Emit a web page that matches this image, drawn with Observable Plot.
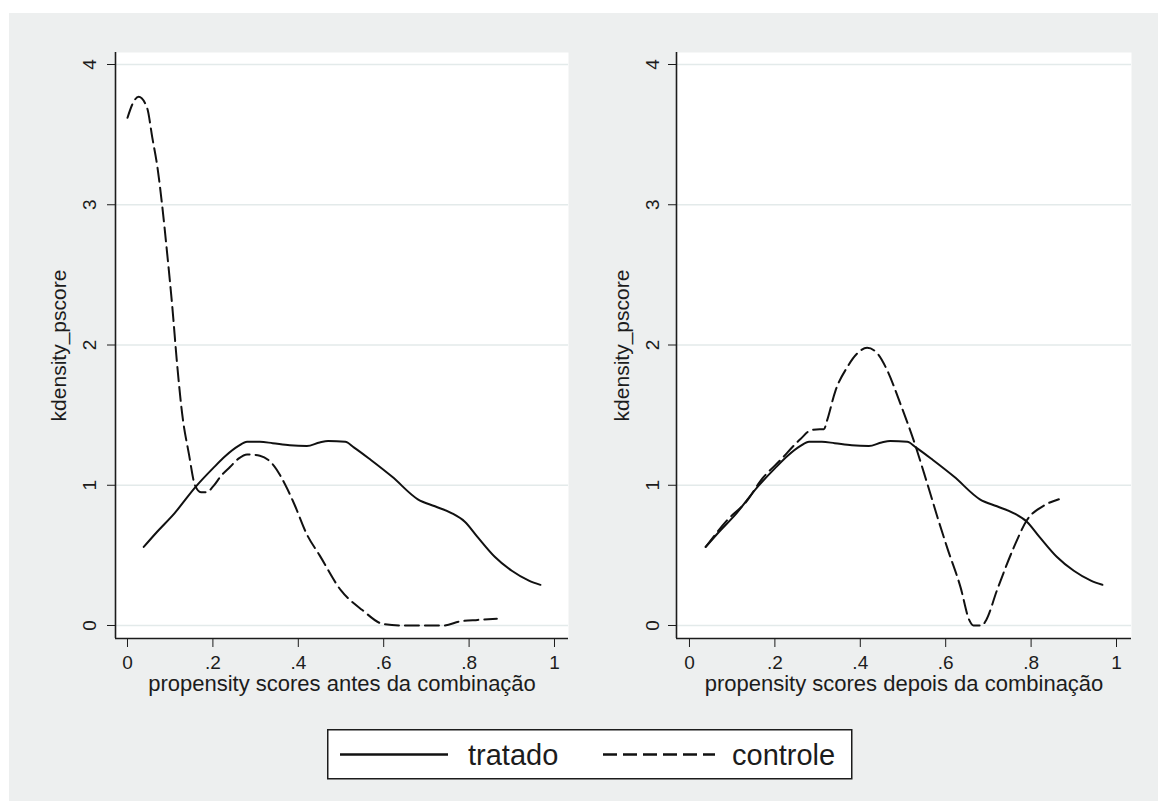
<!DOCTYPE html>
<html>
<head>
<meta charset="utf-8">
<script src="https://cdn.jsdelivr.net/npm/d3@7"></script>
<script src="https://cdn.jsdelivr.net/npm/@observablehq/plot@0.6"></script>
<style>
  html, body { margin: 0; padding: 0; background: #ffffff; }
  body { width: 1158px; height: 801px; overflow: hidden; position: relative; font-family: "Liberation Sans", Arial, sans-serif; }
  #bg { position: absolute; left: 9px; top: 13px; width: 1149px; height: 788px; background: #edefef; }
  #left { position: absolute; left: 0; top: 0; }
  #right { position: absolute; left: 580px; top: 0; }
  #legend { position: absolute; left: 327px; top: 729px; }
</style>
</head>
<body>
<div id="bg"></div>
<div id="left"></div>
<div id="right"></div>
<div id="legend"></div>
<script>
// ---- data ----
const seriesNames = ["tratado", "controle"];
const yTitle = "kdensity_pscore";
const xTitleLeft = "propensity scores antes da combinação";
const xTitleRight = "propensity scores depois da combinação";
const xTicks = [0, 0.2, 0.4, 0.6, 0.8, 1];
const xTickLabels = ["0", ".2", ".4", ".6", ".8", "1"];
const yTicks = [0, 1, 2, 3, 4];
const yTickLabels = ["0", "1", "2", "3", "4"];

// treated group (same curve in both panels)
const tratadoX = [0.038, 0.07, 0.11, 0.16, 0.20, 0.23, 0.26, 0.28, 0.31, 0.34, 0.38, 0.42, 0.45, 0.47, 0.51, 0.53, 0.57, 0.62, 0.68, 0.72, 0.76, 0.79, 0.82, 0.86, 0.90, 0.94, 0.967];
const tratadoY = [0.56, 0.67, 0.80, 0.99, 1.12, 1.21, 1.28, 1.31, 1.31, 1.30, 1.285, 1.28, 1.305, 1.315, 1.31, 1.27, 1.18, 1.06, 0.90, 0.85, 0.80, 0.74, 0.63, 0.49, 0.39, 0.32, 0.29];

// control group before matching
const controleAntesX = [0.0, 0.012, 0.026, 0.046, 0.058, 0.07, 0.081, 0.093, 0.105, 0.116, 0.128, 0.144, 0.158, 0.172, 0.186, 0.20, 0.22, 0.24, 0.26, 0.28, 0.31, 0.34, 0.37, 0.39, 0.42, 0.45, 0.50, 0.55, 0.60, 0.65, 0.70, 0.74, 0.78, 0.82, 0.865];
const controleAntesY = [3.62, 3.72, 3.77, 3.69, 3.48, 3.27, 3.0, 2.65, 2.27, 1.87, 1.51, 1.22, 1.0, 0.95, 0.95, 0.99, 1.07, 1.13, 1.19, 1.22, 1.21, 1.15, 1.0, 0.87, 0.65, 0.50, 0.25, 0.11, 0.01, 0.0, 0.0, 0.0, 0.03, 0.04, 0.048];

// control group after matching
const controleDepoisX = [0.038, 0.088, 0.135, 0.166, 0.213, 0.26, 0.283, 0.305, 0.315, 0.322, 0.342, 0.369, 0.393, 0.416, 0.44, 0.463, 0.494, 0.525, 0.557, 0.584, 0.604, 0.635, 0.655, 0.665, 0.685, 0.695, 0.72, 0.76, 0.79, 0.83, 0.865];
const controleDepoisY = [0.56, 0.75, 0.89, 1.03, 1.18, 1.33, 1.39, 1.40, 1.40, 1.46, 1.675, 1.84, 1.94, 1.98, 1.94, 1.82, 1.58, 1.32, 1.01, 0.74, 0.55, 0.27, 0.04, 0.0, 0.0, 0.04, 0.25, 0.56, 0.75, 0.855, 0.90];

const toRows = (xs, ys) => xs.map((x, i) => ({x, y: ys[i]}));
const tratado = toRows(tratadoX, tratadoY);
const controleAntes = toRows(controleAntesX, controleAntesY);
const controleDepois = toRows(controleDepoisX, controleDepoisY);

const ink = "#1c1c1c";
const font = "'Liberation Sans', Arial, Helvetica, sans-serif";
const yDomain = [-0.0927, 4.0856];

function panel(controle, xTitle, cfg) {
  const x0 = cfg.xDomain[0];
  return Plot.plot({
    width: cfg.width,
    height: 720,
    marginLeft: cfg.ml,
    marginRight: cfg.mr,
    marginTop: 52,
    marginBottom: 82,
    style: {background: "transparent", fontFamily: font, fontSize: "19px", color: ink, overflow: "visible"},
    x: {domain: cfg.xDomain},
    y: {domain: yDomain},
    marks: [
      Plot.frame({fill: "white", stroke: "none"}),
      Plot.gridY(yTicks, {stroke: "#e3eaea", strokeWidth: 1.6, strokeOpacity: 1}),
      // y ticks (marks only) + rotated tick labels
      Plot.axisY(yTicks, {tickSize: 8, color: ink, tickFormat: () => "", label: null}),
      Plot.text(yTicks, {
        x: () => x0, y: d => d, text: d => yTickLabels[yTicks.indexOf(d)],
        rotate: -90, textAnchor: "middle", lineAnchor: "bottom",
        dx: -cfg.yTickDx, fontSize: 19, fill: ink
      }),
      Plot.axisX(xTicks, {
        tickSize: 9, tickPadding: 8, fontSize: 19, color: ink,
        tickFormat: d => xTickLabels[xTicks.indexOf(d)], label: null
      }),
      Plot.text([yTitle], {
        text: d => d, frameAnchor: "left", dx: -cfg.yLabelOffset, rotate: -90,
        textAnchor: "middle", lineAnchor: "top", fontSize: 21, fill: ink
      }),
      Plot.text([xTitle], {
        text: d => d, frameAnchor: "bottom", dy: 37, lineAnchor: "top",
        textAnchor: "middle", fontSize: 22, fill: ink
      }),
      Plot.ruleX([x0], {stroke: ink, strokeWidth: 1.6}),
      Plot.ruleY([yDomain[0]], {stroke: ink, strokeWidth: 1.6}),
      Plot.line(tratado, {x: "x", y: "y", stroke: "#111", strokeWidth: 2, curve: "monotone-x"}),
      Plot.line(controle, {x: "x", y: "y", stroke: "#111", strokeWidth: 2, strokeDasharray: "14,6", curve: "monotone-x"})
    ]
  });
}

document.getElementById("left").append(
  panel(controleAntes, xTitleLeft, {width: 580, ml: 115, mr: 12, xDomain: [-0.0281, 1.0328], yLabelOffset: 64, yTickDx: 20})
);
document.getElementById("right").append(
  panel(controleDepois, xTitleRight, {width: 578, ml: 96, mr: 27, xDomain: [-0.0304, 1.0351], yLabelOffset: 62, yTickDx: 18})
);

// legend
const ns = "http://www.w3.org/2000/svg";
const lg = document.createElementNS(ns, "svg");
lg.setAttribute("width", 526);
lg.setAttribute("height", 51);
lg.innerHTML = `
  <rect x="0.75" y="0.75" width="524" height="49" fill="#ffffff" stroke="${ink}" stroke-width="1.5"></rect>
  <line x1="13" y1="25.5" x2="121" y2="25.5" stroke="#111" stroke-width="2.6"></line>
  <text x="141" y="36" font-family="${font}" font-size="29" fill="${ink}">${seriesNames[0]}</text>
  <line x1="276" y1="25.5" x2="388" y2="25.5" stroke="#111" stroke-width="2.6" stroke-dasharray="14,6"></line>
  <text x="405" y="36" font-family="${font}" font-size="29" fill="${ink}">${seriesNames[1]}</text>
`;
document.getElementById("legend").append(lg);
</script>
</body>
</html>
